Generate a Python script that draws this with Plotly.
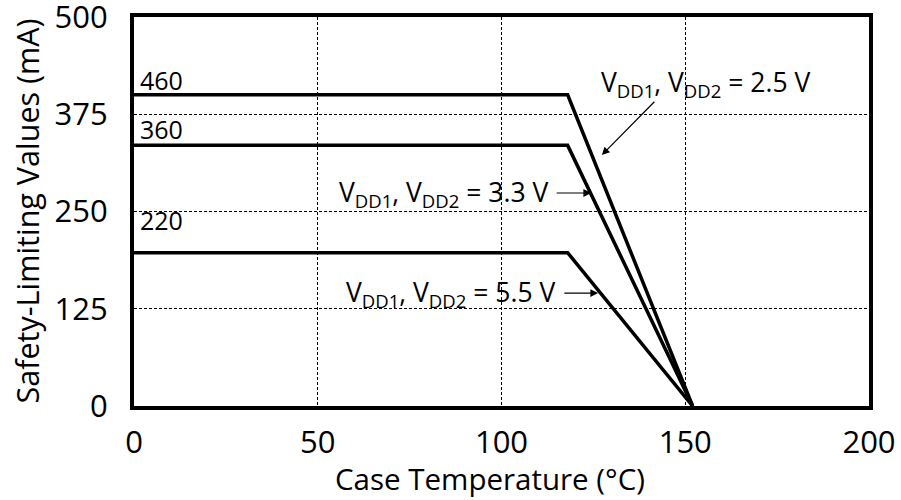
import plotly.graph_objects as go

# Data
temps = [0, 118, 152]
curve_25 = [400, 400, 0]
curve_33 = [335, 335, 0]
curve_55 = [197, 197, 0]
level_labels = ["460", "360", "220"]
level_label_y = [419, 356, 239]
x_ticks = [0, 50, 100, 150, 200]
y_ticks = [0, 125, 250, 375, 500]
x_title = "Case Temperature (°C)"
y_title = "Safety-Limiting Values (mA)"

FONT = "Open Sans"

fig = go.Figure()
for ys in (curve_25, curve_33, curve_55):
    fig.add_trace(go.Scatter(x=temps, y=ys, mode="lines",
                             line=dict(color="black", width=3.5),
                             showlegend=False, hoverinfo="skip"))

ann = []
for lab, yv in zip(level_labels, level_label_y):
    ann.append(dict(x=1.2, y=yv, xref="x", yref="y", text=lab, showarrow=False,
                    xanchor="left", yanchor="middle",
                    font=dict(family=FONT, size=25, color="black")))

vtexts = [
    ("V<sub>DD1</sub>, V<sub>DD2</sub> = 2.5 V", 155.6, 415),
    ("V<sub>DD1</sub>, V<sub>DD2</sub> = 3.3 V", 84.1, 273),
    ("V<sub>DD1</sub>, V<sub>DD2</sub> = 5.5 V", 86.0, 145),
]
for t, xv, yv in vtexts:
    ann.append(dict(x=xv, y=yv, xref="x", yref="y", text=t, showarrow=False,
                    xanchor="center", yanchor="middle",
                    font=dict(family=FONT, size=26.5, color="black")))

arrows = [
    ((142, 393), (127.3, 322.6)),
    ((114.6, 273.8), (124.4, 273.8)),
    ((116.7, 145.2), (126.3, 145.2)),
]
for (tx, ty), (hx, hy) in arrows:
    ann.append(dict(x=hx, y=hy, ax=tx, ay=ty, xref="x", yref="y",
                    axref="x", ayref="y", text="", showarrow=True,
                    arrowhead=2, arrowsize=1.3, arrowwidth=1.2,
                    arrowcolor="black"))

# axis titles as annotations for precise placement
ann.append(dict(x=0.5, y=-0.186, xref="paper", yref="paper", text=x_title,
                showarrow=False, xanchor="center", yanchor="middle",
                xshift=-12,
                font=dict(family=FONT, size=29.5, color="black")))
ann.append(dict(x=0, y=0.5, xref="paper", yref="paper", text=y_title,
                showarrow=False, xanchor="center", yanchor="middle",
                textangle=-90, xshift=-108,
                font=dict(family=FONT, size=30.5, color="black")))

fig.update_layout(
    width=901, height=500,
    margin=dict(l=134, r=32, t=17, b=94),
    plot_bgcolor="white", paper_bgcolor="white",
    annotations=ann,
    font=dict(family=FONT, color="black"),
)
fig.update_xaxes(range=[0, 200], tickvals=x_ticks, showgrid=True,
                 gridcolor="black", gridwidth=1, griddash="3px,2px",
                 showline=True, linecolor="black", linewidth=4, mirror=True,
                 ticks="outside", ticklen=6, tickcolor="rgba(0,0,0,0)",
                 tickfont=dict(family=FONT, size=31), zeroline=False,
                 automargin=False, ticklabeloverflow="allow")
fig.update_yaxes(range=[0, 500], tickvals=y_ticks, showgrid=True,
                 gridcolor="black", gridwidth=1, griddash="3px,2px",
                 showline=True, linecolor="black", linewidth=4, mirror=True,
                 ticks="outside", ticklen=16, tickcolor="rgba(0,0,0,0)",
                 tickfont=dict(family=FONT, size=31), zeroline=False,
                 automargin=False, ticklabeloverflow="allow")

fig.write_html("out.html", config={"displayModeBar": False},
               post_script="document.body.style.margin='0';document.body.style.overflow='hidden';")
